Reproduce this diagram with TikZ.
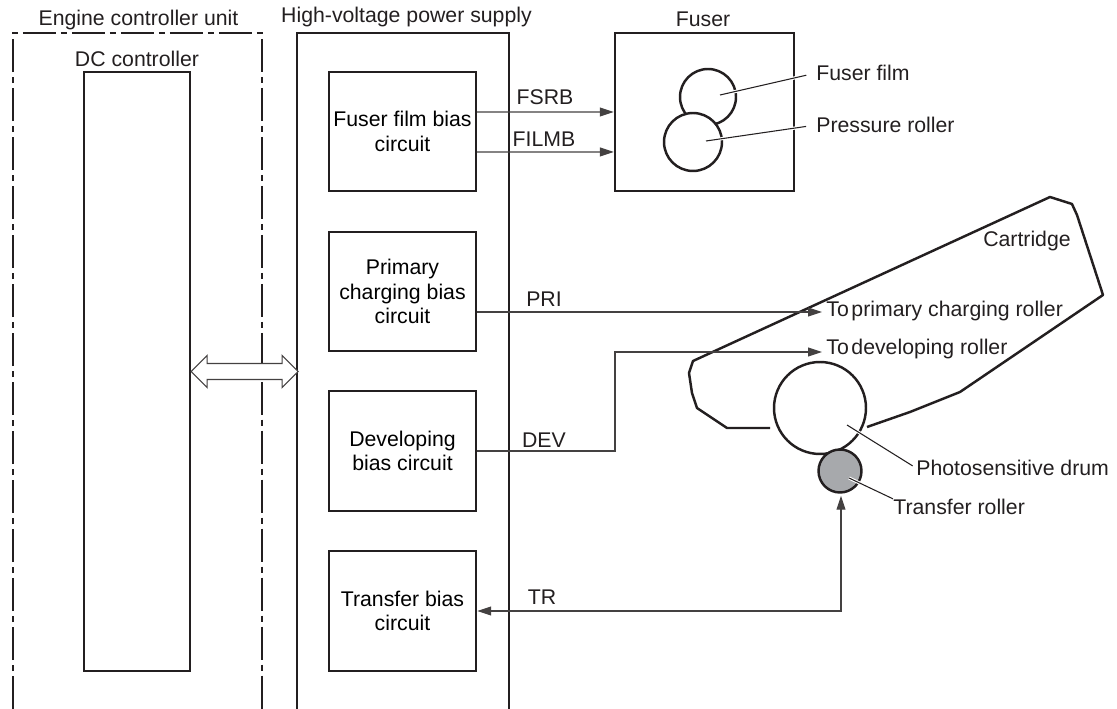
\documentclass[tikz,border=0pt]{standalone}
\usepackage{fontspec}
\setmainfont{Liberation Sans}
\usetikzlibrary{arrows.meta, positioning}

\definecolor{inkline}{HTML}{231F20}
\definecolor{rollergray}{HTML}{A7A9AC}
\tikzset{
    blockbox/.style={draw=inkline, line width=1.4pt, align=center, font=\fontsize{12.1pt}{14pt}\selectfont, inner sep=0pt},
    tag/.style={font=\fontsize{12.1pt}{14pt}\selectfont, text=inkline, inner sep=0pt},
    sigline/.style={draw=inkline!85, line width=0.6pt, -{Triangle[length=0.28cm,width=0.18cm]}},
    leader/.style={draw=inkline, line width=0.6pt, preaction={draw=white, line width=1.8pt}},
    framelong/.style={draw=inkline, line width=1.4pt, dash pattern=on 0.66cm off 0.1cm on 0.12cm off 0.1cm},
    rollerline/.style={draw=inkline, line width=1.4pt}
}

\begin{document}
\begin{tikzpicture}[x=0.02cm, y=-0.02cm]
\useasboundingbox (0,0) rectangle (1117,709);

% Engine controller unit
\draw[framelong] (13,709) -- (13,33) -- (262,33) -- (262,709);
\node[tag] (enginelabel) at (138.5,20) {Engine controller unit};
\node[tag] (dclabel) at (137,59) {DC controller};
\node[blockbox, minimum width=2.12cm, minimum height=11.98cm] (dc) at (137,371.5) {};

% High-voltage power supply
\draw[rollerline] (297,709) -- (297,33) -- (509,33) -- (509,709);
\node[tag] (hvlabel) at (406.5,17) {High-voltage power supply};
\node[blockbox, minimum width=2.94cm, minimum height=2.38cm] (fuserbias) at (402.5,131.5) {Fuser film bias\\circuit};
\node[blockbox, minimum width=2.94cm, minimum height=2.38cm] (primarybias) at (402.5,291.5) {Primary\\charging bias\\circuit};
\node[blockbox, minimum width=2.94cm, minimum height=2.40cm] (devbias) at (402.5,451) {Developing\\bias circuit};
\node[blockbox, minimum width=2.94cm, minimum height=2.40cm] (transferbias) at (402.5,611) {Transfer bias\\circuit};

% Link between the units
\draw[draw=inkline!85, fill=white, line width=0.6pt] (dc.east) -- ++(16,-16) -- ++(0,8) -- ++(75,0) -- ++(0,-8) -- ++(16,16)
    -- ++(-16,16) -- ++(0,-8) -- ++(-75,0) -- ++(0,8) -- cycle;

% Fuser
\node[blockbox, minimum width=3.58cm, minimum height=3.16cm] (fuser) at (704.5,112) {};
\node[tag] (fuserlabel) at (703,19) {Fuser};
\node[circle, rollerline, minimum size=1.12cm, inner sep=0pt] (film) at (708,97) {};
\node[circle, rollerline, fill=white, minimum size=1.16cm, inner sep=0pt] (pressure) at (693,142) {};
\coordinate (filmin) at (720,95);
\coordinate (pressurein) at (706,141);
\node[tag, anchor=west] (filmlabel) at (816,73) {Fuser film};
\node[tag, anchor=west] (pressurelabel) at (816,125) {Pressure roller};
\draw[leader, shorten >=0.2cm] (filmin) -- (filmlabel.west);
\draw[leader, shorten >=0.2cm] (pressurein) -- (pressurelabel.west);

% Fuser signals
\node[tag] (fsrb) at (545,97) {FSRB};
\node[tag] (filmb) at (544,139) {FILMB};
\draw[sigline] ([yshift=0.39cm]fuserbias.east) -- (fuser.west);
\draw[sigline] ([yshift=-0.41cm]fuserbias.east) -- ([yshift=-0.80cm]fuser.west);

% Cartridge
\draw[rollerline, line join=round] (770,428) -- (727,428) -- (697,408) -- (692,393) -- (689,373) -- (693,361)
    -- (1050,197) -- (1072,204) -- (1077,215) -- (1103,295) -- (960,392) -- (910,412) -- (867,427);
\node[tag] (cartlabel) at (1027,241) {Cartridge};
\node[tag, anchor=west] (primarylabel) at (826,311) {To\hspace{1.5pt}primary charging roller};
\node[tag, anchor=west] (devlabel) at (826,349) {To\hspace{1.5pt}developing roller};

% Drum and transfer roller
\node[circle, rollerline, minimum size=1.84cm, inner sep=0pt] (drum) at (820,408) {};
\node[circle, rollerline, fill=rollergray, minimum size=0.86cm, inner sep=0pt] (transfer) at (840,471) {};
\coordinate (drumin) at (847,425);
\coordinate (transferin) at (849,478);
\node[tag, anchor=west] (drumlabel) at (916,468) {Photosensitive drum};
\node[tag, anchor=west] (transferlabel) at (893,507) {Transfer roller};
\draw[leader, shorten >=0.08cm] (drumin) -- (drumlabel.west);
\draw[leader] (transferin) -- (transferlabel.north west);

% Cartridge signals
\coordinate (primarytip) at (822,312);
\coordinate (devtip) at (822,352);
\coordinate (devbend) at (615,352);
\node[tag] (pri) at (544,299) {PRI};
\node[tag] (dev) at (544,440) {DEV};
\node[tag] (tr) at (542,597) {TR};
\draw[sigline] (primarybias.east |- primarytip) -- (primarytip);
\draw[sigline] (devbias.east) -- (devbend |- devbias.east) -- (devbend) -- (devtip);
\draw[sigline, {Triangle[length=0.28cm,width=0.18cm]}-{Triangle[length=0.28cm,width=0.18cm]}] (transferbias.east) -| ([shift={(1,2)}]transfer.south);
\end{tikzpicture}
\end{document}
